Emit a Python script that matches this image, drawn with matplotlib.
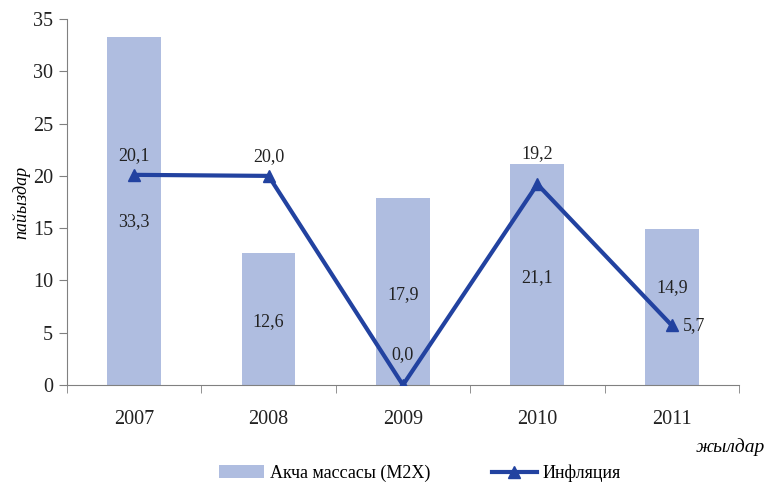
import numpy as np
import matplotlib
matplotlib.use('Agg')
import matplotlib.pyplot as plt

years = ['2007', '2008', '2009', '2010', '2011']
money_supply = [33.3, 12.6, 17.9, 21.1, 14.9]     # Акча массасы (M2X)
inflation = [20.1, 20.0, 0.0, 19.2, 5.7]          # Инфляция

bar_color = '#afbde0'
line_color = '#2242a0'
axis_color = '#808080'

plt.rcParams['font.family'] = ['Liberation Serif', 'DejaVu Serif']
plt.rcParams['font.size'] = 13

fig = plt.figure(figsize=(7.69, 4.88), dpi=100)
ax = fig.add_axes([0.087, 0.211, 0.874, 0.75])

x = np.arange(len(years))
bars = ax.bar(x, money_supply, width=0.4, color=bar_color, label='Акча массасы (M2X)', zorder=1)
line, = ax.plot(x, inflation, color=line_color, lw=3, marker='^', markersize=9,
                label='Инфляция', zorder=3)

# bar values sit inside the bars, nudged where the line would cover them
bar_shift = [-8, -2, -2, -2, 14]
for i, v in enumerate(money_supply):
    ax.annotate(f'{v:.1f}'.replace('.', ','), (x[i], v / 2), xytext=(0, bar_shift[i]),
                textcoords='offset points', ha='center', va='center', fontsize=13, color='#222222')

line_shift = [(0, 14), (0, 14), (0, 22), (0, 22), (16, 0)]
for i, v in enumerate(inflation):
    ax.annotate(f'{v:.1f}'.replace('.', ','), (x[i], v), xytext=line_shift[i],
                textcoords='offset points', ha='center', va='center', fontsize=13, color='#222222')

ax.set_xlim(-0.5, len(years) - 0.5)
ax.set_ylim(0, 35)
ax.set_yticks(range(0, 36, 5))
ax.set_xticks(x)
ax.set_xticklabels(years)
ax.set_xticks(np.arange(-0.5, len(years)), minor=True)
ax.tick_params(axis='x', which='major', length=0, pad=18)
ax.tick_params(axis='x', which='minor', length=6, color=axis_color, direction='out')
ax.tick_params(axis='y', length=6, color=axis_color, direction='out', pad=4)
ax.tick_params(labelsize=14.5, labelcolor='#222222')

for side in ['top', 'right']:
    ax.spines[side].set_visible(False)
for side in ['left', 'bottom']:
    ax.spines[side].set_color(axis_color)

ax.set_ylabel('пайыздар', fontstyle='italic', fontsize=13, labelpad=2)
fig.text(0.995, 0.084, 'жылдар', ha='right', va='center', fontstyle='italic', fontsize=14)

fig.legend([bars, line], ['Акча массасы (M2X)', 'Инфляция'], loc='center',
           bbox_to_anchor=(0.546, 0.03), ncol=2, frameon=False,
           fontsize=13, handlelength=2.5, handletextpad=0.3, columnspacing=3.4)

fig.savefig('out.png', dpi=100)
